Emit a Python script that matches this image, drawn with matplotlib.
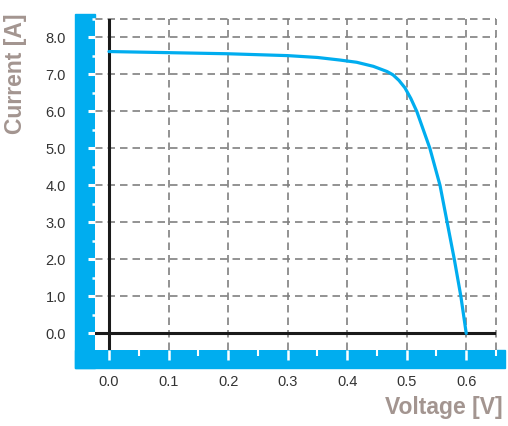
import matplotlib
matplotlib.use("Agg")
import matplotlib.pyplot as plt
from matplotlib.patches import Rectangle
from matplotlib.ticker import MultipleLocator

# I-V curve
voltage = [0.0, 0.1, 0.2, 0.3, 0.35, 0.388, 0.416, 0.444, 0.467, 0.477, 0.487,
           0.497, 0.507, 0.517, 0.528, 0.539, 0.556, 0.568, 0.58, 0.591, 0.6]
current = [7.62, 7.59, 7.56, 7.51, 7.46, 7.39, 7.33, 7.22, 7.08, 6.99, 6.84,
           6.64, 6.35, 6.0, 5.50, 5.0, 4.0, 3.0, 2.0, 1.0, 0.0]

x_ticks = [0.0, 0.1, 0.2, 0.3, 0.4, 0.5, 0.6]
y_ticks = [0.0, 1.0, 2.0, 3.0, 4.0, 5.0, 6.0, 7.0, 8.0]

blue = "#00adef"
label_color = "#a39590"
W, H = 508, 426

plt.rcParams["font.family"] = ["Liberation Sans", "DejaVu Sans"]

fig = plt.figure(figsize=(W / 100, H / 100), dpi=100)
ax = fig.add_axes([95 / W, (H - 350) / H, (496 - 95) / W, (350 - 19) / H])

# blue L-shaped band behind the ticks
fig.add_artist(Rectangle((75 / W, (H - 368) / H), 20 / W, (368 - 14) / H,
                         transform=fig.transFigure, color=blue, zorder=-1))
fig.add_artist(Rectangle((75 / W, (H - 368) / H), (505 - 75) / W, 18 / H,
                         transform=fig.transFigure, color=blue, zorder=-1))

ax.set_xlim(-0.0235, 0.65)
ax.set_ylim(-0.45, 8.5)

dash = (0, (4.5, 3))
for xv in x_ticks[1:] + [0.65]:
    ax.axvline(xv, color="#808080", lw=1.2, ls=dash, zorder=1, clip_on=False)
for yv in y_ticks[1:] + [8.5]:
    ax.axhline(yv, color="#808080", lw=1.2, ls=dash, zorder=1, clip_on=False)

ax.axvline(0, color="#1a1a1a", lw=2.2, zorder=2)
ax.axhline(0, color="#1a1a1a", lw=2.2, zorder=2)

ax.plot(voltage, current, color=blue, lw=2.3, zorder=3, solid_capstyle="round",
        solid_joinstyle="round")

for s in ax.spines.values():
    s.set_visible(False)

ax.set_xticks(x_ticks)
ax.set_xticklabels([f"{v:.1f}" for v in x_ticks])
ax.set_yticks(y_ticks)
ax.set_yticklabels([f"{v:.1f}" for v in y_ticks])
ax.xaxis.set_minor_locator(MultipleLocator(0.05))
ax.yaxis.set_minor_locator(MultipleLocator(0.5))

ax.tick_params(axis="x", which="major", direction="out", length=7, width=1.8,
               color="white", pad=11, labelsize=10.5, labelcolor="#333333")
ax.tick_params(axis="x", which="minor", direction="out", length=4, width=1.5,
               color="white")
ax.tick_params(axis="y", which="major", direction="out", length=5, width=2.2,
               color="white", pad=16, labelsize=10.5, labelcolor="#333333")
ax.tick_params(axis="y", which="minor", direction="out", length=2.5, width=1.8,
               color="white")

fig.text(16 / W, (H - 73.5) / H, "Current [A]", rotation=90, ha="center",
         va="center", fontsize=16.5, fontweight="bold", color=label_color)
fig.text(503 / W, (H - 419) / H, "Voltage [V]", ha="right", va="bottom",
         fontsize=16.5, fontweight="bold", color=label_color)

fig.savefig("out.png", dpi=100)
